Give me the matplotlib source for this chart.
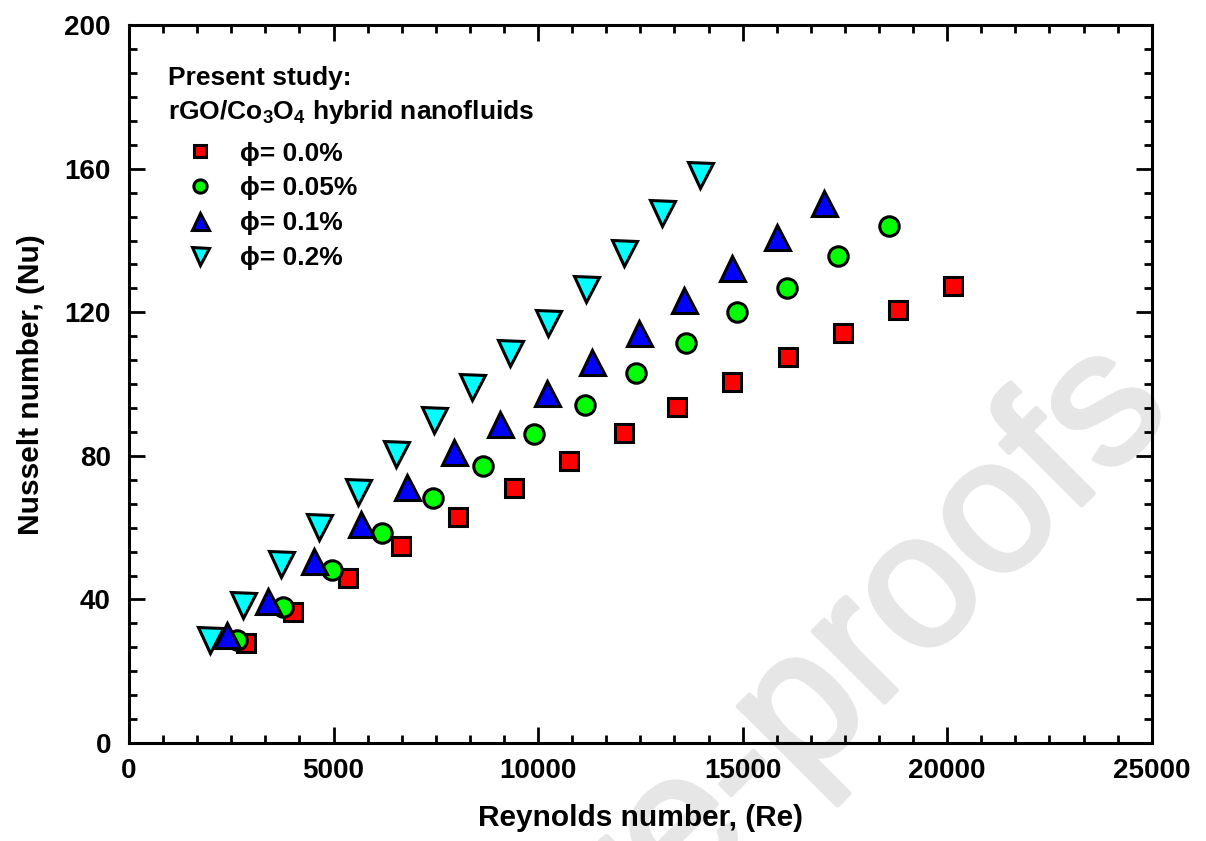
#Nusselt number vs Reynolds number for rGO/Co3O4 hybrid nanofluids

import matplotlib
matplotlib.use('Agg')
import matplotlib.pyplot as plt
import matplotlib.patheffects as pe
from matplotlib.ticker import MultipleLocator
import numpy as np

plt.rcParams['font.family'] = ['Liberation Sans', 'DejaVu Sans']
plt.rcParams['font.weight'] = 'bold'
plt.rcParams['mathtext.fontset'] = 'custom'
plt.rcParams['mathtext.rm'] = 'Liberation Sans:bold'
plt.rcParams['mathtext.bf'] = 'Liberation Sans:bold'
plt.rcParams['mathtext.default'] = 'bf'

#Data
re_00 = [2850, 4000, 5350, 6650, 8050, 9400, 10750, 12100, 13400, 14750, 16100, 17450, 18800, 20150]
nu_00 = [27.9, 36.5, 46.0, 54.9, 63.0, 71.0, 78.6, 86.4, 93.6, 100.6, 107.5, 114.2, 120.6, 127.3]

re_005 = [2640, 3760, 4960, 6180, 7430, 8650, 9900, 11150, 12390, 13610, 14860, 16080, 17330, 18570]
nu_005 = [28.7, 37.9, 48.2, 58.5, 68.2, 77.2, 86.1, 94.2, 103.1, 111.4, 120.1, 126.7, 135.7, 144.0]

re_01 = [2400, 3400, 4520, 5670, 6790, 7940, 9070, 10220, 11320, 12460, 13560, 14740, 15840, 16990]
nu_01 = [30.1, 39.6, 50.7, 61.0, 71.3, 81.1, 88.9, 97.5, 106.1, 114.2, 123.4, 132.3, 140.9, 150.4]

re_02 = [1980, 2790, 3720, 4640, 5600, 6530, 7450, 8380, 9310, 10240, 11170, 12100, 13030, 13960]
nu_02 = [28.7, 38.4, 49.9, 60.2, 69.9, 80.5, 90.0, 99.2, 108.6, 117.0, 126.5, 136.5, 147.6, 158.2]

labels = ['\u03d5= 0.0%', '\u03d5= 0.05%', '\u03d5= 0.1%', '\u03d5= 0.2%']

#Create Plot
#-----------------------------------------
fig = plt.figure(figsize=(12.06, 8.41), dpi=100)
ax = fig.add_axes([0.107, 0.1165, 0.848, 0.8535])
ax.patch.set_alpha(0)

# journal watermark, sits behind the axes
fig.text(0.974, 0.510, 'Journal Pre-proofs', rotation=45, rotation_mode='anchor',
         ha='right', va='baseline', fontsize=137, fontweight='normal',
         color='#e6e6e6', zorder=-1,
         path_effects=[pe.withStroke(linewidth=3.5, foreground='#e6e6e6')])

ew = 2.2
l3, = ax.plot(re_02, nu_02, 'v', ms=18, mfc='#00ffff', mec='black', mew=ew, label=labels[3], zorder=2)
l0, = ax.plot(re_00, nu_00, 's', ms=12.5, mfc='#ff0000', mec='black', mew=ew, label=labels[0], zorder=3)
l1, = ax.plot(re_005, nu_005, 'o', ms=14, mfc='#00ff00', mec='black', mew=ew, label=labels[1], zorder=4)
l2, = ax.plot(re_01, nu_01, '^', ms=18, mfc='#0000ff', mec='black', mew=ew, label=labels[2], zorder=5)

ax.set_xlim(0, 25000)
ax.set_ylim(0, 200)

ax.xaxis.set_major_locator(MultipleLocator(5000))
ax.xaxis.set_minor_locator(MultipleLocator(5000 / 6.))
ax.yaxis.set_major_locator(MultipleLocator(40))
ax.yaxis.set_minor_locator(MultipleLocator(40 / 6.))

ax.tick_params(axis='both', which='both', direction='in', top=True, right=True,
               width=2.0, labelsize=20)
ax.tick_params(axis='both', which='major', length=11.5)
ax.tick_params(axis='both', which='minor', length=5.8)
ax.tick_params(axis='x', which='major', pad=11)
ax.tick_params(axis='y', which='major', pad=13)

for sp in ax.spines.values():
    sp.set_linewidth(2.2)

ax.set_xlabel('Reynolds number, (Re)', fontsize=21.5, fontweight='bold', labelpad=14)
ax.set_ylabel('Nusselt number, (Nu)', fontsize=21.5, fontweight='bold', labelpad=14)

#legend header
ax.text(0.038, 0.9164, 'Present study:', transform=ax.transAxes, fontsize=19,
        fontweight='bold', va='baseline', ha='left')
ax.text(0.038, 0.869, r'rGO/Co$_3$O$_4$ hybrid nanofluids', transform=ax.transAxes,
        fontsize=19, fontweight='bold', va='baseline', ha='left')

leg = ax.legend(handles=[l0, l1, l2, l3], loc='upper left', bbox_to_anchor=(0.0565, 0.838),
                frameon=False, fontsize=19, markerscale=0.68, handlelength=1.0,
                handletextpad=1.0, labelspacing=0.41, borderpad=0, borderaxespad=0)

plt.savefig('out.png', dpi=100)
